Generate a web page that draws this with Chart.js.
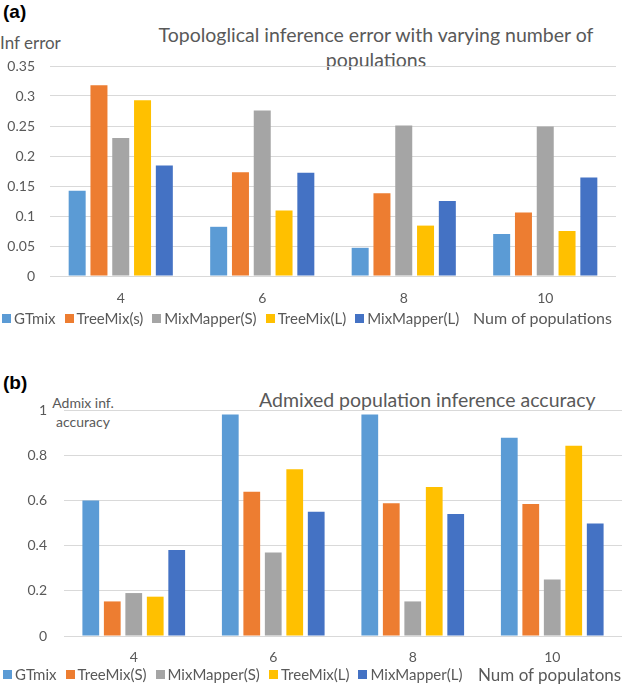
<!DOCTYPE html>
<html>
<head>
<meta charset="utf-8">
<script src="https://cdn.jsdelivr.net/npm/chart.js@4/dist/chart.umd.min.js"></script>
<style>
  html, body { margin: 0; padding: 0; background: #fff; }
  body { width: 624px; height: 685px; position: relative; overflow: hidden; font-family: Lato, "Open Sans", sans-serif; color: #595959; }
  .abs { position: absolute; white-space: nowrap; line-height: 1; }
  .panel { position: absolute; font-family: "Liberation Sans", Arial, sans-serif; font-weight: bold; font-size: 19px; color: #000; }
  .legend { position: absolute; display: flex; align-items: center; font-size: 15px; line-height: 1; white-space: nowrap; }
  .legend .item { display: flex; align-items: center; margin-right: 9px; }
  .legend .sw { width: 9px; height: 9px; margin-right: 3px; }
  canvas { position: absolute; left: 0; }
</style>
</head>
<body>
<div class="panel" style="left:3px; top:1px;">(a)</div>
<div class="abs" style="left:0px; top:34px; font-size:17px;">Inf error</div>
<div class="abs" style="left:126px; width:500px; top:22px; font-size:19.5px; text-align:center; line-height:25px;"><span id="titleA1"></span><br><span id="titleA2"></span></div>

<div class="panel" style="left:3px; top:372px;">(b)</div>
<div class="abs" style="left:40px; width:86px; top:393px; font-size:14px; text-align:center; line-height:19px;">Admix inf.<br>accuracy</div>
<div class="abs" style="left:259px; top:390px; font-size:19.5px;" id="titleB"></div>

<canvas id="cA" width="624" height="316" style="top:0px; width:624px; height:316px;"></canvas>
<canvas id="cB" width="624" height="336" style="top:340px; width:624px; height:336px;"></canvas>

<div class="legend" id="legA" style="left:2px; top:311px;"></div>
<div class="abs" style="left:473px; top:310px; font-size:16px;" id="xTitleA"></div>
<div class="legend" id="legB" style="left:3px; top:667px;"></div>
<div class="abs" style="left:478px; top:666px; font-size:17px;" id="xTitleB"></div>

<script>
// ---------- data ----------
const categories = ['4', '6', '8', '10'];

const seriesNamesA = ['GTmix', 'TreeMix(s)', 'MixMapper(S)', 'TreeMix(L)', 'MixMapper(L)'];
const gtmixA      = [0.142, 0.082, 0.047, 0.070];
const treemixSA   = [0.318, 0.173, 0.138, 0.106];
const mixmapperSA = [0.230, 0.276, 0.251, 0.249];
const treemixLA   = [0.293, 0.109, 0.084, 0.075];
const mixmapperLA = [0.184, 0.172, 0.125, 0.164];
const yTicksA = ['0', '0.05', '0.1', '0.15', '0.2', '0.25', '0.3', '0.35'];

const seriesNamesB = ['GTmix', 'TreeMix(S)', 'MixMapper(S)', 'TreeMix(L)', 'MixMapper(L)'];
const gtmixB      = [0.600, 0.980, 0.980, 0.877];
const treemixSB   = [0.153, 0.638, 0.587, 0.584];
const mixmapperSB = [0.190, 0.370, 0.153, 0.250];
const treemixLB   = [0.174, 0.738, 0.659, 0.842];
const mixmapperLB = [0.380, 0.550, 0.540, 0.498];
const yTicksB = ['0', '0.2', '0.4', '0.6', '0.8', '1'];

const titleALines = ['Topologlical inference error with varying number of', 'populations'];
const titleB = 'Admixed population inference accuracy';
const xTitleA = 'Num of populations';
const xTitleB = 'Num of populatons';

// ---------- style ----------
const colors = ['#5B9BD5', '#ED7D31', '#A5A5A5', '#FFC000', '#4472C4'];
const textColor = '#595959';
const gridColor = '#D9D9D9';
const fontFamily = 'Lato, "Open Sans", sans-serif';

document.getElementById('titleA1').textContent = titleALines[0];
document.getElementById('titleA2').textContent = titleALines[1];
document.getElementById('titleB').textContent = titleB;
document.getElementById('xTitleA').textContent = xTitleA;
document.getElementById('xTitleB').textContent = xTitleB;

function buildLegend(id, names) {
  const el = document.getElementById(id);
  names.forEach((n, i) => {
    const item = document.createElement('div');
    item.className = 'item';
    const sw = document.createElement('div');
    sw.className = 'sw';
    sw.style.background = colors[i];
    const t = document.createElement('span');
    t.textContent = n;
    item.appendChild(sw); item.appendChild(t);
    el.appendChild(item);
  });
}
buildLegend('legA', seriesNamesA);
buildLegend('legB', seriesNamesB);

function makeChart(canvasId, names, series, yMax, yStep, yTicks, cfg) {
  return new Chart(document.getElementById(canvasId), {
    type: 'bar',
    data: {
      labels: categories,
      datasets: series.map((d, i) => ({
        label: names[i],
        data: d,
        backgroundColor: colors[i],
        borderWidth: 0,
        categoryPercentage: 0.77,
        barPercentage: 0.78
      }))
    },
    options: {
      responsive: false,
      animation: false,
      devicePixelRatio: 1,
      layout: { padding: { top: cfg.padTop, right: cfg.padRight, left: 0, bottom: 0 } },
      plugins: { legend: { display: false }, tooltip: { enabled: false }, title: { display: false } },
      scales: {
        x: {
          grid: { display: false, drawTicks: false },
          border: { display: false },
          ticks: { color: textColor, font: { family: fontFamily, size: 14 }, padding: cfg.xPad },
          afterFit: s => { s.height = 40; }
        },
        y: {
          min: 0, max: yMax,
          grid: { color: gridColor, lineWidth: 1, drawTicks: false },
          border: { display: false },
          ticks: {
            stepSize: yStep,
            color: textColor,
            font: { family: fontFamily, size: 14 },
            padding: cfg.yPad,
            callback: (v, i) => yTicks[i] !== undefined ? yTicks[i] : String(v)
          },
          afterFit: s => { s.width = cfg.yWidth; }
        }
      }
    }
  });
}

makeChart('cA', seriesNamesA, [gtmixA, treemixSA, mixmapperSA, treemixLA, mixmapperLA], 0.35, 0.05, yTicksA,
  { padTop: 66, padRight: 8, xPad: 14, yPad: 15, yWidth: 50 });
makeChart('cB', seriesNamesB, [gtmixB, treemixSB, mixmapperSB, treemixLB, mixmapperLB], 1, 0.2, yTicksB,
  { padTop: 70, padRight: 2, xPad: 13, yPad: 17, yWidth: 64 });
</script>
</body>
</html>
